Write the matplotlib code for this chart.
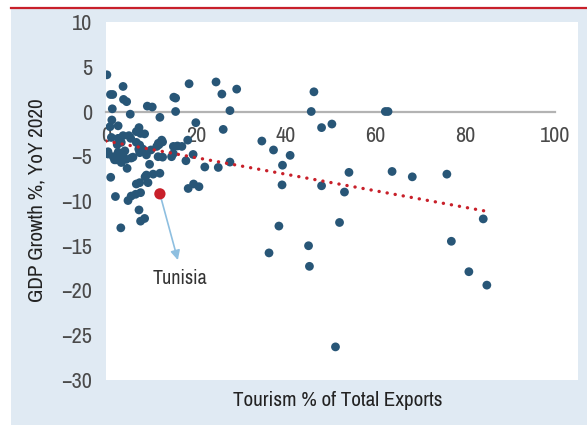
import matplotlib
matplotlib.use("Agg")
import matplotlib.pyplot as plt
from matplotlib import font_manager
from matplotlib.patches import Rectangle
from matplotlib.lines import Line2D

_names = sorted({f.name for f in font_manager.fontManager.ttflist})
_cond = [n for n in _names if ('Narrow' in n or 'Condensed' in n)]
if _cond:
    FONT = _cond[0]
    SCALE = 1.0
else:
    FONT = 'Roboto' if 'Roboto' in _names else 'Liberation Sans'
    SCALE = 0.86
plt.rcParams['font.family'] = [FONT, 'DejaVu Sans']

# Tourism % of total exports
tourism = [0.2, 1.0, 1.5, 3.8, 3.9, 4.6, 1.4, 5.4, 9.2, 10.3, 12.0, 15.1, 15.5, 15.5, 18.5, 20.0,
           24.5, 25.8, 29.1, 27.6, 26.1,
           1.3, 2.7, 0.9, 7.35, 6.75, 7.7, 8.6, 3.8, 5.1, 5.5, 2.7, 1.2, 3.4, 2.5, 6.75, 7.5, 11.8,
           0.45, 2.7, 4.2, 7.3, 8.2, 10.0, 11.65, 12.6, 11.3, 12.4, 18.2, 15.0, 15.9, 16.9, 19.4,
           0.45, 1.6, 2.7, 3.8, 2.3, 3.4, 4.5, 5.6, 4.7, 6.0, 7.5, 9.0, 9.7, 11.6, 12.6, 14.6, 15.0,
           17.8, 1.9,
           1.05, 9.0, 10.5, 12.0, 9.35, 7.5, 6.75, 8.7, 2.1, 4.9, 5.6, 6.6, 7.7, 7.35, 7.7, 8.6, 3.3,
           18.3, 19.5, 20.7,
           22.0, 25.0, 27.6, 34.7, 37.3, 41.0, 39.3, 39.2, 38.5, 36.3, 46.3, 45.7, 48.0, 50.3, 48.0,
           45.1, 45.3, 51.1, 52.0, 54.1, 53.1, 62.2, 62.8, 63.7, 68.2, 75.9, 84.0, 76.9, 80.8, 84.8]
# GDP growth %, YoY 2020
gdp = [4.1, 1.9, 1.9, 2.8, 1.35, 1.1, 0.3, -0.3, 0.6, 0.5, -0.65, 1.6, 1.5, 0.0, 3.1, -1.25,
       3.3, 1.95, 2.5, 0.1, -2.0,
       -0.95, -1.6, -1.7, -1.8, -2.25, -2.45, -2.5, -2.7, -2.7, -3.0, -3.0, -2.9, -3.45, -3.7, -3.45,
       -3.75, -3.7,
       -4.5, -4.55, -4.4, -4.2, -4.2, -4.3, -3.55, -3.4, -3.9, -3.2, -3.2, -3.9, -3.85, -3.9, -4.8,
       -4.75, -5.05, -4.85, -4.95, -5.4, -5.7, -5.35, -5.2, -6.35, -5.1, -4.6, -4.85, -5.9, -5.05,
       -5.1, -5.05, -4.7, -5.5, -5.4,
       -7.35, -7.1, -7.0, -6.9, -7.95, -7.95, -8.1, -7.3, -9.5, -9.95, -9.45, -9.25, -9.07, -11.0,
       -12.25, -11.95, -13.0,
       -8.6, -8.1, -8.4,
       -6.2, -6.25, -5.65, -3.3, -4.3, -4.9, -6.0, -8.2, -12.8, -15.8, 2.2, 0.0, -1.8, -1.4, -8.3,
       -15.0, -17.3, -26.3, -12.4, -6.8, -9.0, 0.0, 0.0, -6.7, -7.3, -7.0, -12.0, -14.5, -17.9, -19.4]

# Highlighted country
tunisia_x = 12.0
tunisia_y = -9.2
tunisia_label = "Tunisia"

# Trend line endpoints
trend_x = [0.0, 84.2]
trend_y = [-3.3, -11.1]

x_ticks = [0, 20, 40, 60, 80, 100]
y_ticks = [10, 5, 0, -5, -10, -15, -20, -25, -30]

RED = '#c8202a'
BLUE = '#285677'
PANEL = '#e0eaf3'

W, H = 587, 425
fig = plt.figure(figsize=(W / 100, H / 100), dpi=100)
fig.patch.set_facecolor('white')

# background panel and top red rule
fig.add_artist(Rectangle((11 / W, 0), (W - 11) / W, (H - 9) / H, transform=fig.transFigure,
                         facecolor=PANEL, edgecolor='none', zorder=0))
fig.add_artist(Line2D([11 / W, 1], [1 - 7.5 / H, 1 - 7.5 / H], transform=fig.transFigure,
                      color=RED, lw=1.6, zorder=1))

ax = fig.add_axes([106 / W, 1 - 380 / H, (578 - 106) / W, (380 - 22) / H])
ax.set_facecolor('white')
ax.set_xlim(0, 105.1)
ax.set_ylim(-30, 10)

for s in ['top', 'right', 'left']:
    ax.spines[s].set_visible(False)
ax.spines['bottom'].set_position(('data', 0))
ax.spines['bottom'].set_bounds(0, 100)
ax.spines['bottom'].set_color('#b3b3b3')
ax.spines['bottom'].set_linewidth(1.6)
ax.spines['bottom'].set_zorder(1)

ax.set_xticks(x_ticks)
ax.set_xticklabels([str(t) for t in x_ticks])
ax.set_yticks(y_ticks)
ax.set_yticklabels([f"{t}".replace('-', '\u2212') for t in y_ticks])
ax.tick_params(axis='x', length=0, pad=10.5, labelsize=16 * SCALE, labelcolor='#4a4a4a')
ax.tick_params(axis='y', length=0, pad=10, labelsize=16 * SCALE, labelcolor='#4a4a4a')

ax.scatter(tourism, gdp, s=40, color=BLUE, edgecolors='none', zorder=3)

ax.plot(trend_x, trend_y, color=RED, lw=2.4, linestyle=(0, (0.05, 2.4)),
        dash_capstyle='round', zorder=4)

ax.annotate('', xy=(16.0, -16.6), xytext=(tunisia_x, tunisia_y),
            arrowprops=dict(arrowstyle='-|>', color='#8ebfe0', lw=1.2, mutation_scale=14,
                            shrinkA=4, shrinkB=0), zorder=4)
ax.scatter([tunisia_x], [tunisia_y], s=66, color=RED, edgecolors='none', zorder=5)
ax.text(16.5, -18.7, tunisia_label, ha='center', va='center', fontsize=14.5 * SCALE,
        color='#333333')

fig.text(37 / W, 1 - 200 / H, "GDP Growth %, YoY 2020", rotation=90, ha='center', va='center',
         fontsize=15.2 * SCALE, color='#222222')
fig.text(338 / W, 1 - 401 / H, "Tourism % of Total Exports", ha='center', va='center',
         fontsize=15.2 * SCALE, color='#222222')

fig.savefig('out.png', dpi=100, facecolor='white')
